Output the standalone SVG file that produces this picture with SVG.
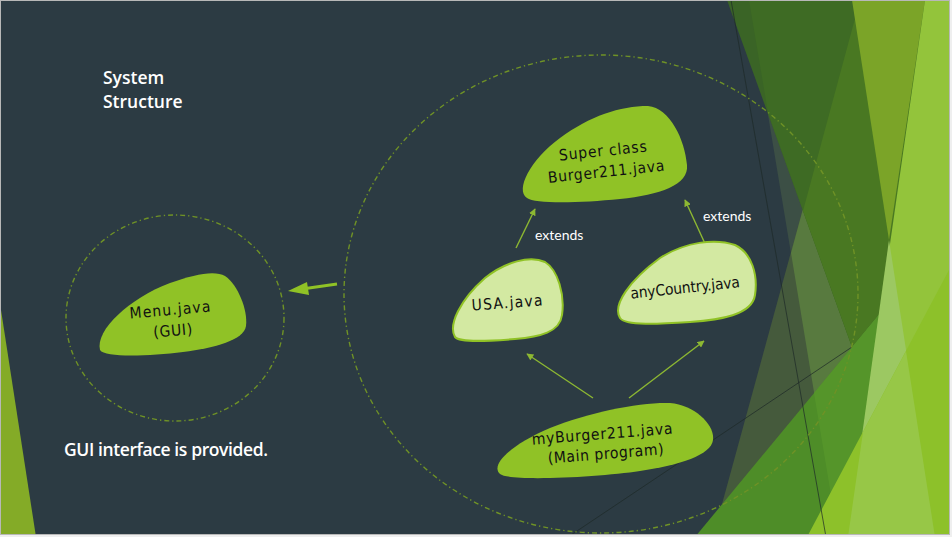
<svg xmlns="http://www.w3.org/2000/svg" width="952" height="537" viewBox="0 0 952 537">
<defs>
  <clipPath id="slide"><rect x="1" y="1" width="948" height="533"/></clipPath>
  <marker id="ah" viewBox="0 0 10 10" refX="9" refY="5" markerWidth="7" markerHeight="7" markerUnits="userSpaceOnUse" orient="auto">
    <path d="M0,0 L10,5 L0,10 Z" fill="#8DB832"/>
  </marker>
</defs>
<style>
  .ring { fill: none; stroke: #6F9226; stroke-width: 1.4; stroke-dasharray: 5 3 1.3 3; }
  .dark { fill: #90C226; }
  .light { fill: #D3E9A2; stroke: #90C226; stroke-width: 2; }
  .nt { font-family: "DejaVu Sans Condensed", "DejaVu Sans", "Liberation Sans", sans-serif; font-stretch: condensed; font-size: 15.5px; fill: #111; text-anchor: middle; }
  .lbl { font-family: "Lato", "Open Sans", sans-serif; font-size: 14px; fill: #FFFFFF; }
  .title { font-family: "Open Sans", "Lato", sans-serif; font-weight: 600; font-size: 17.5px; fill: #FFFFFF; }
  .conn { stroke: #8DB832; stroke-width: 1.4; fill: none; }
  .thin { stroke: #1E2A28; stroke-width: 1; opacity: 0.7; }
</style>

<rect x="0" y="0" width="952" height="537" fill="#EFEFEF"/>
<rect x="0.5" y="0.5" width="949" height="534" fill="#2C3B43" stroke="#B8B8B8" stroke-width="1"/>

<g id="decoration" clip-path="url(#slide)">
  <polygon points="1,310 36,537 1,537" fill="#84AB27"/>
  <polygon points="749,0 949,0 949,537 838,537" fill="#3C4F45"/>
  <polygon points="860,0 949,0 949,537 713,537" fill="#455A3C"/>
  <polygon points="860,0 949,0 949,537 838,537 791,253" fill="#587A3F"/>
  <polygon points="727,0 949,0 949,230 852,347" fill="#3A6426"/>
  <polygon points="749,0 949,0 949,230 852,347 768,113" fill="#3E6B24"/>
  <polygon points="860,0 949,0 949,230 852,347 803,211" fill="#497822"/>
  <polygon points="695,537 949,230 949,537" fill="#4E8D28"/>
  <polygon points="814,393 949,230 949,537 838,537" fill="#55952A"/>
  <polygon points="852,0 925,0 889,240" fill="#7BA428"/>
  <polygon points="925,0 949,0 949,537 848,537" fill="#93C43B"/>
  <polygon points="889,240 935,537 848,537" fill="#9CC862"/>
  <polygon points="807,537 949,270 949,537" fill="#8DC12A"/>
  <polygon points="863,432 906,351 935,537 848,537" fill="#97C747"/>
  <line class="thin" x1="731" y1="0" x2="826" y2="537"/>
  <line class="thin" x1="568" y1="537" x2="852" y2="347"/>
</g>

<g id="title">
  <text class="title" x="103" y="84">System</text>
  <text class="title" x="103" y="108">Structure</text>
</g>
<text id="note" class="title" x="64" y="456" font-size="16.5" textLength="204">GUI interface is provided.</text>

<g id="rings">
  <ellipse class="ring" cx="175" cy="318" rx="109" ry="103"/>
  <ellipse class="ring" cx="601" cy="294" rx="257" ry="239"/>
</g>

<g id="connectors">
  <line x1="337" y1="284" x2="302" y2="289" stroke="#90C226" stroke-width="3"/>
  <polygon points="288,291 307,282 309,295" fill="#90C226"/>
  <line class="conn" x1="516" y1="248" x2="535" y2="209" marker-end="url(#ah)"/>
  <line class="conn" x1="707" y1="248" x2="685" y2="200" marker-end="url(#ah)"/>
  <line class="conn" x1="593" y1="398" x2="527" y2="354" marker-end="url(#ah)"/>
  <line class="conn" x1="629" y1="398" x2="704" y2="341" marker-end="url(#ah)"/>
  <text class="lbl" x="535" y="240">extends</text>
  <text class="lbl" x="703" y="221">extends</text>
</g>

<g id="menu">
  <path class="dark" d="M100,350 C95,330 130,298 170,283 C195,274 215,270 225,276 C238,285 248,310 246,326 C244,340 215,348 183,352 C150,356 105,358 100,350 Z"/>
  <g transform="rotate(-5 171 322)">
    <text class="nt" x="171" y="315" textLength="81">Menu.java</text>
    <text class="nt" x="172" y="336" textLength="39">(GUI)</text>
  </g>
</g>

<g id="burger211">
  <path class="dark" d="M527,198 C515,190 530,160 560,138 C590,116 620,106 648,106 C670,108 685,140 687,165 C689,185 660,195 620,199 C580,203 535,204 527,198 Z"/>
  <g transform="rotate(-6 604 162)">
    <text class="nt" x="604" y="156" textLength="88">Super class</text>
    <text class="nt" x="605" y="177" textLength="117">Burger211.java</text>
  </g>
</g>

<g id="usa">
  <path class="light" d="M455,337 C448,325 460,300 485,278 C505,262 530,255 545,262 C558,270 565,295 562,315 C560,332 540,337 515,339 C490,341 460,343 455,337 Z"/>
  <text class="nt" x="507" y="308" textLength="71" transform="rotate(-4 507 302)">USA.java</text>
</g>

<g id="anycountry">
  <path class="light" d="M620,318 C612,305 630,280 660,258 C685,242 715,238 735,245 C752,253 758,275 755,295 C752,315 720,320 690,322 C660,324 625,326 620,318 Z"/>
  <text class="nt" x="685" y="293" textLength="110" transform="rotate(-6 685 287)">anyCountry.java</text>
</g>

<g id="myburger">
  <path class="dark" d="M500,474 C490,465 510,445 550,428 C590,412 640,402 670,403 C695,405 715,425 713,440 C711,455 680,465 640,471 C600,477 510,482 500,474 Z"/>
  <g transform="rotate(-4.5 604 446)">
    <text class="nt" x="603" y="439" textLength="141">myBurger211.java</text>
    <text class="nt" x="605" y="459" textLength="116">(Main program)</text>
  </g>
</g>
</svg>
